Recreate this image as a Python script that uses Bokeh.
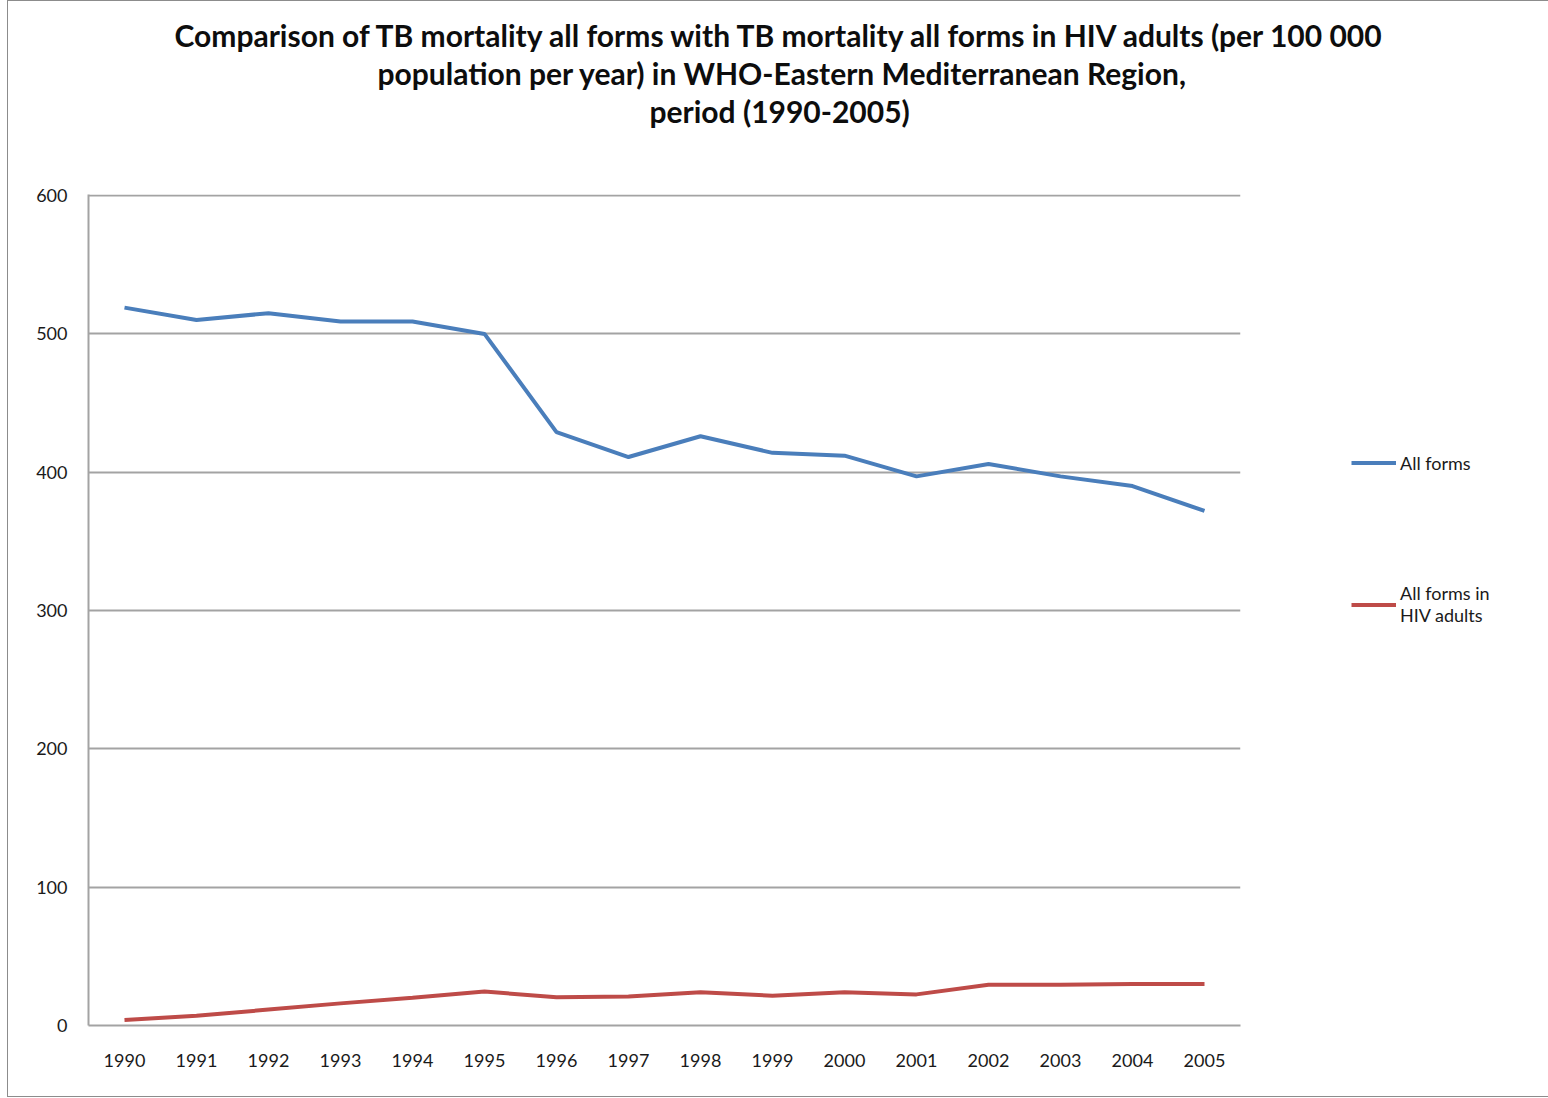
from bokeh.plotting import figure
from bokeh.models import (ColumnDataSource, Range1d, FixedTicker, Legend, LegendItem, Title)
from bokeh.embed import file_html
from bokeh.resources import INLINE

years = list(range(1990, 2006))
all_forms = [519, 510, 515, 509, 509, 500, 429, 411, 426, 414, 412, 397, 406, 397, 390, 372]
hiv_adults = [4, 7, 11.5, 16, 20, 24.5, 20.5, 21, 24, 21.5, 24, 22.5, 29.5, 29.5, 30, 30]
title_lines = [
    "Comparison of TB mortality all forms  with TB mortality all forms in HIV adults  (per 100 000",
    "population per year) in WHO-Eastern Mediterranean Region,",
    "period (1990-2005)",
]
title_offsets = [86, 289, 561]
series_names = ["All forms", "All forms in\nHIV adults"]
y_ticks = [0, 100, 200, 300, 400, 500, 600]

FONT = "Lato"
GRID = "#a3a3a3"

src = ColumnDataSource(dict(year=years, all_forms=all_forms, hiv=hiv_adults))

p = figure(frame_width=1152, frame_height=831, output_backend="svg", toolbar_location=None,
           x_range=Range1d(1989.5, 2005.5), y_range=Range1d(0, 600.8),
           min_border_left=80, min_border_right=306, min_border_top=193, min_border_bottom=71)
p.styles = {"border": "1px solid #8c8c8c", "margin-left": "7px"}
p.outline_line_color = None
p.background_fill_color = "white"
p.border_fill_color = "white"

r1 = p.line("year", "all_forms", source=src, line_color="#4a7ebb", line_width=4)
r2 = p.line("year", "hiv", source=src, line_color="#be4b48", line_width=4)

p.xgrid.grid_line_color = None
p.ygrid.grid_line_color = GRID
p.ygrid.grid_line_width = 2
p.ygrid.ticker = FixedTicker(ticks=y_ticks)

p.xaxis.ticker = FixedTicker(ticks=years)
p.yaxis.ticker = FixedTicker(ticks=y_ticks)
for ax in (p.xaxis, p.yaxis):
    ax.axis_line_color = GRID
    ax.axis_line_width = 2
    ax.major_tick_line_color = None
    ax.minor_tick_line_color = None
    ax.major_tick_in = 0
    ax.major_tick_out = 0
    ax.major_label_text_font = FONT
    ax.major_label_text_font_size = "18px"
    ax.major_label_text_color = "#1a1a1a"
p.xaxis.major_label_standoff = 28
p.yaxis.major_label_standoff = 21

legend = Legend(items=[LegendItem(label=series_names[0], renderers=[r1]),
                       LegendItem(label=series_names[1], renderers=[r2])],
                location=(111, 399), orientation="vertical",
                glyph_width=45, glyph_height=27, label_height=27,
                label_standoff=4, spacing=106, padding=0, margin=0,
                border_line_color=None, background_fill_alpha=0,
                label_text_font=FONT, label_text_font_size="18px",
                label_text_color="#1a1a1a", label_text_line_height=1.5)
p.add_layout(legend, "right")

# spacer between title block and plot frame
p.add_layout(Title(text="\u00a0", text_font=FONT, text_font_size="45px"), "above")
for txt, off in reversed(list(zip(title_lines, title_offsets))):
    p.add_layout(Title(text=txt, align="left", offset=off, standoff=0,
                       text_font=FONT, text_font_style="bold", text_font_size="30px",
                       text_color="#0d0d0d"), "above")

open("out.html", "w").write(file_html(p, INLINE))
